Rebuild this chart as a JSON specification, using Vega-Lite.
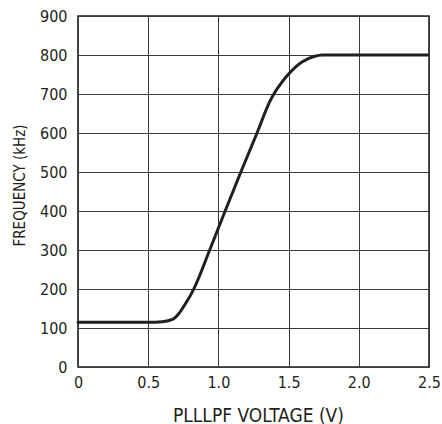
{
  "$schema": "https://vega.github.io/schema/vega-lite/v6.json",
  "autosize": "none",
  "padding": {"left": 78, "top": 16, "right": 13, "bottom": 57},
  "width": 351,
  "height": 351,
  "background": "white",
  "config": {
    "font": "Liberation Sans Narrow, DejaVu Sans Condensed, sans-serif",
    "view": {"stroke": "#231f20", "strokeWidth": 1.6},
    "axis": {
      "labelFont": "Liberation Sans Narrow, DejaVu Sans Condensed, sans-serif",
      "titleFont": "Liberation Sans Narrow, DejaVu Sans Condensed, sans-serif",
      "labelFontSize": 16,
      "titleFontSize": 15,
      "titleFontWeight": "normal",
      "labelColor": "#231f20",
      "titleColor": "#231f20",
      "gridColor": "#3a3a3a",
      "gridOpacity": 1,
      "gridWidth": 1,
      "ticks": false,
      "domain": false
    }
  },
  "data": {
    "values": [
      {"v": 0, "f": 115},
      {"v": 0.3, "f": 115},
      {"v": 0.55, "f": 115},
      {"v": 0.6, "f": 116},
      {"v": 0.673, "f": 122},
      {"v": 0.72, "f": 138},
      {"v": 0.766, "f": 163},
      {"v": 0.8, "f": 183},
      {"v": 0.83, "f": 204},
      {"v": 0.938, "f": 300},
      {"v": 1.048, "f": 400},
      {"v": 1.16, "f": 500},
      {"v": 1.275, "f": 600},
      {"v": 1.365, "f": 680},
      {"v": 1.395, "f": 700},
      {"v": 1.45, "f": 729},
      {"v": 1.5, "f": 751},
      {"v": 1.595, "f": 782},
      {"v": 1.68, "f": 796},
      {"v": 1.74, "f": 800},
      {"v": 2.0, "f": 800},
      {"v": 2.49, "f": 800}
    ]
  },
  "mark": {"type": "line", "color": "#231f20", "strokeWidth": 3, "interpolate": "monotone", "strokeCap": "round"},
  "encoding": {
    "x": {
      "field": "v",
      "type": "quantitative",
      "scale": {"domain": [0, 2.5], "nice": false, "zero": false},
      "axis": {
        "values": [0, 0.5, 1, 1.5, 2, 2.5],
        "labelExpr": "datum.value == 0 ? '0' : format(datum.value, '.1f')",
        "labelPadding": 7,
        "labelFlush": false,
        "title": "PLLLPF VOLTAGE (V)",
        "titleFontSize": 19,
        "titleBaseline": "alphabetic",
        "titleY": 54,
        "titleX": 180
      }
    },
    "y": {
      "field": "f",
      "type": "quantitative",
      "scale": {"domain": [0, 900], "nice": false},
      "axis": {
        "values": [0, 100, 200, 300, 400, 500, 600, 700, 800, 900],
        "labelPadding": 11,
        "labelFlush": false,
        "title": "FREQUENCY (kHz)",
        "titleBaseline": "middle",
        "titleX": -59,
        "titleY": 169
      }
    }
  }
}
